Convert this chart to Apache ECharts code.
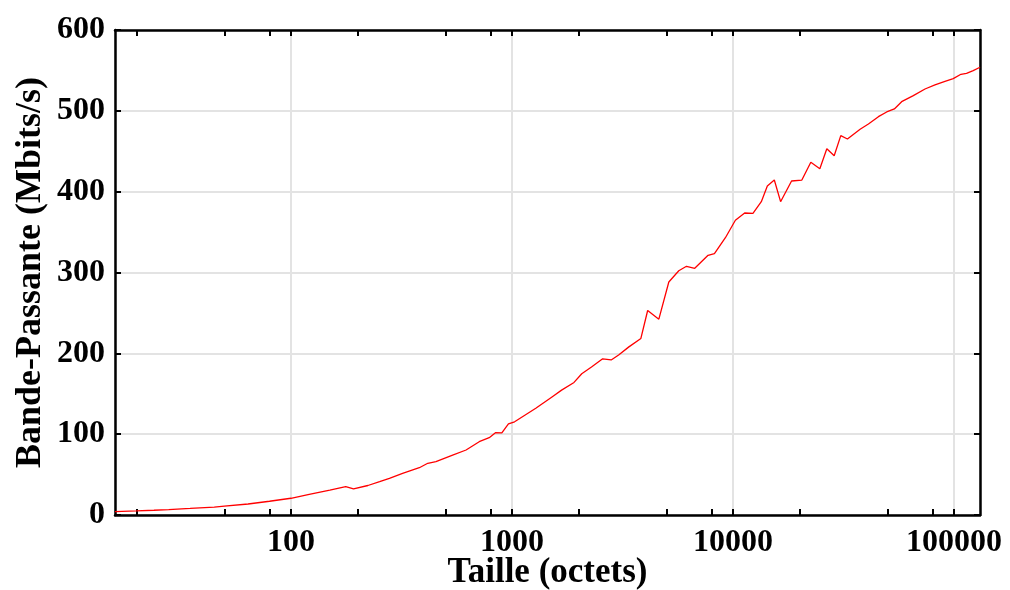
<!DOCTYPE html>
<html><head><meta charset="utf-8">
<script src="https://cdn.jsdelivr.net/npm/echarts@6/dist/echarts.min.js"></script>
<style>html,body{margin:0;padding:0;background:#fff}#c{width:1010px;height:590px}</style>
</head><body><div id="c"></div>
<script>
// Message sizes (octets)
const sizes = [16, 20, 24, 28, 35, 45, 50, 64, 80, 100, 121, 150, 177, 192, 223, 252, 279, 320, 381, 416, 453,
  539, 620, 711, 789, 842, 900, 964, 1028, 1282, 1523, 1677, 1909, 2069, 2290, 2573, 2811, 3038, 3381, 3831,
  4111, 4619, 5125, 5686, 6160, 6715, 7713, 8241, 9240, 10252, 11293, 12311, 13434, 14301, 15380, 16420,
  18407, 20490, 22497, 24713, 26575, 28698, 30735, 32945, 37593, 40990, 45490, 49580, 53700, 57940, 65440,
  73920, 82000, 91000, 99180, 107450, 113880, 122110, 131072];
// Bandwidth (Mbits/s)
const bandwidth = [4.1, 5.0, 5.9, 6.7, 8.1, 9.8, 11.0, 13.6, 17.0, 20.7, 25.5, 30.8, 35.0, 32.2, 36.5, 41.2, 45.4, 51.6, 58.5, 64.0, 66.0,
  74.2, 80.4, 90.7, 95.7, 101.8, 101.5, 112.6, 115.3, 132.0, 146.4, 154.5, 164.0, 174.8, 183.0, 193.2, 191.8, 198.0, 208.0, 218.4,
  253.0, 242.3, 288.2, 302.2, 307.7, 305.2, 321.3, 323.3, 343.0, 364.6, 373.6, 373.2, 387.6, 407.0, 414.4, 387.6,
  413.2, 414.4, 436.3, 428.4, 453.0, 444.5, 469.3, 465.2, 477.2, 483.7, 492.8, 498.6, 502.3, 511.3, 518.8,
  527.0, 532.0, 536.5, 539.8, 545.2, 546.4, 549.7, 553.9];
const xLabelValues = [100, 1000, 10000, 100000];
const xTickValues = [20, 50, 80, 100, 200, 500, 800, 1000, 2000, 5000, 8000, 10000, 20000, 50000, 80000, 100000];
const xTitle = 'Taille (octets)';
const yTitle = 'Bande-Passante (Mbits/s)';

const FONT = 'Liberation Serif';
const gridRect = {left: 115, right: 30, top: 30, bottom: 75, outerBoundsMode: 'none'};
const black = '#000';
const gridColor = '#e3e3e3';
const tickStyle = {show: true, inside: true, length: 6, lineStyle: {color: black, width: 2}};
const lineStyle = {show: true, lineStyle: {color: black, width: 2.5}};
const labelFont = {fontFamily: FONT, fontWeight: 'bold', fontSize: 32, color: black};
const nameFont = {fontFamily: FONT, fontWeight: 'bold', fontSize: 35, color: black};

const chart = echarts.init(document.getElementById('c'), null, {renderer: 'canvas'});
chart.setOption({
  animation: false,
  backgroundColor: '#fff',
  grid: [Object.assign({}, gridRect), Object.assign({}, gridRect)],
  xAxis: [
    {gridIndex: 0, type: 'log', logBase: 10, min: 16, max: 131072, position: 'bottom',
     axisLine: {show: false}, axisTick: {show: false},
     axisLabel: Object.assign({customValues: xLabelValues, margin: 12, formatter: v => String(Math.round(v))}, labelFont),
     splitLine: {show: true, lineStyle: {color: gridColor, width: 2}},
     name: xTitle, nameLocation: 'middle', nameGap: 40, nameMoveOverlap: false, nameTextStyle: nameFont},
    {gridIndex: 1, type: 'log', logBase: 10, min: 16, max: 131072, position: 'bottom',
     axisLine: lineStyle, axisTick: Object.assign({customValues: xTickValues}, tickStyle),
     axisLabel: {show: false}, splitLine: {show: false}},
    {gridIndex: 1, type: 'log', logBase: 10, min: 16, max: 131072, position: 'top',
     axisLine: lineStyle, axisTick: Object.assign({customValues: xTickValues}, tickStyle),
     axisLabel: {show: false}, splitLine: {show: false}}
  ],
  yAxis: [
    {gridIndex: 0, type: 'value', min: 0, max: 600, interval: 100, position: 'left',
     axisLine: lineStyle, axisTick: tickStyle,
     axisLabel: Object.assign({margin: 10}, labelFont),
     splitLine: {show: true, lineStyle: {color: gridColor, width: 2}},
     name: yTitle, nameLocation: 'middle', nameGap: 66, nameMoveOverlap: false,
     nameTextStyle: Object.assign({}, nameFont, {fontSize: 36})},
    {gridIndex: 1, type: 'value', min: 0, max: 600, interval: 100, position: 'right',
     axisLine: lineStyle, axisTick: tickStyle,
     axisLabel: {show: false}, splitLine: {show: false}}
  ],
  series: [{
    type: 'line', xAxisIndex: 0, yAxisIndex: 0,
    data: sizes.map((s, i) => [s, bandwidth[i]]),
    showSymbol: false, symbol: 'none',
    lineStyle: {color: '#ff0000', width: 1.3},
    z: 3
  }]
});
</script></body></html>
